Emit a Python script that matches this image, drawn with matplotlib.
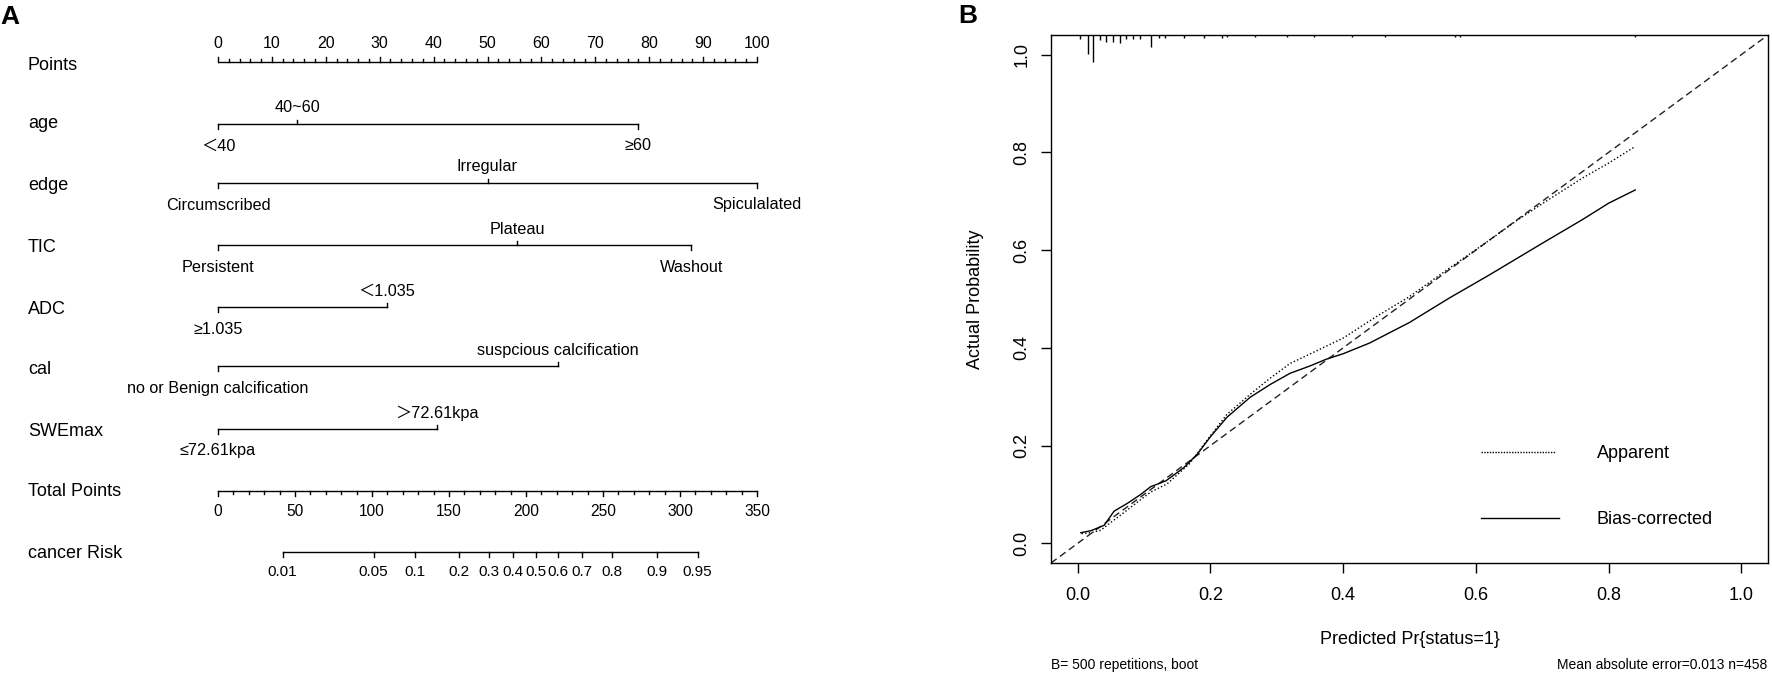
import matplotlib
matplotlib.use("Agg")
import matplotlib.pyplot as plt
import numpy as np

plt.rcParams['font.family'] = ['Liberation Sans', 'Noto Sans CJK SC', 'DejaVu Sans']

# ---------------- data: nomogram (panel A) ----------------
points_ticks = list(range(0, 101, 10))
points_minor_step = 2
total_points_ticks = list(range(0, 351, 50))
total_minor_step = 10
total_points_max = 350

row_names = ["age", "edge", "TIC", "ADC", "cal", "SWEmax"]
age_labels = ["＜40", "40~60", "≥60"]
age_points = [0, 14.7, 78.0]
edge_labels = ["Circumscribed", "Irregular", "Spiculalated"]
edge_points = [0, 50.0, 100.0]
tic_labels = ["Persistent", "Plateau", "Washout"]
tic_points = [0, 55.5, 87.8]
adc_labels = ["≥1.035", "＜1.035"]
adc_points = [0, 31.3]
cal_labels = ["no or Benign calcification", "suspcious calcification"]
cal_points = [0, 63.1]
swe_labels = ["≤72.61kpa", "＞72.61kpa"]
swe_points = [0, 40.6]

risk_ticks = [0.01, 0.05, 0.1, 0.2, 0.3, 0.4, 0.5, 0.6, 0.7, 0.8, 0.9, 0.95]
risk_tick_labels = ["0.01", "0.05", "0.1", "0.2", "0.3", "0.4", "0.5",
                    "0.6", "0.7", "0.8", "0.9", "0.95"]
lp_intercept = -5.77
lp_slope = 0.02798   # linear predictor per total point

# ---------------- data: calibration (panel B) ----------------
bias_x = [0.005, 0.02, 0.04, 0.055, 0.075, 0.095, 0.11, 0.133, 0.16, 0.18, 0.20,
          0.225, 0.26, 0.29, 0.32, 0.35, 0.375, 0.40, 0.44, 0.50, 0.56, 0.62,
          0.70, 0.76, 0.80, 0.84]
bias_y = [0.022, 0.026, 0.037, 0.066, 0.082, 0.100, 0.116, 0.128, 0.155, 0.182,
          0.218, 0.258, 0.299, 0.325, 0.348, 0.363, 0.377, 0.388, 0.410, 0.452,
          0.502, 0.549, 0.614, 0.662, 0.696, 0.723]
app_x = [0.006, 0.02, 0.035, 0.05, 0.064, 0.0935, 0.11, 0.135, 0.1686, 0.20,
         0.225, 0.26, 0.29, 0.32, 0.36, 0.40, 0.45, 0.50, 0.56, 0.62, 0.66,
         0.70, 0.76, 0.80, 0.84]
app_y = [0.020, 0.022, 0.027, 0.043, 0.057, 0.088, 0.105, 0.122, 0.163, 0.220,
         0.264, 0.305, 0.338, 0.368, 0.394, 0.420, 0.464, 0.505, 0.563, 0.620,
         0.659, 0.695, 0.747, 0.778, 0.812]
rug_x = [0.004, 0.015, 0.023, 0.0335, 0.043, 0.0535, 0.0636, 0.0736, 0.0836,
         0.0936, 0.111, 0.1227, 0.1317, 0.160, 0.190, 0.218, 0.225, 0.268,
         0.3155, 0.3555, 0.413, 0.463, 0.568, 0.576, 0.839]
rug_freq = [3, 14, 20, 4, 5, 5, 6, 3, 2.8, 2.8, 9, 2.5, 2.5, 2, 2, 2, 1.7, 1.7,
            1.7, 1.7, 1.7, 1.5, 1.5, 1.5, 1.5]
xy_ticks = [0.0, 0.2, 0.4, 0.6, 0.8, 1.0]
xy_tick_labels = ["0.0", "0.2", "0.4", "0.6", "0.8", "1.0"]
legend_names = ["Apparent", "Bias-corrected"]
footer_left = "B= 500 repetitions, boot"
footer_right = "Mean absolute error=0.013 n=458"

# ---------------- figure ----------------
W, H = 1772, 675
fig = plt.figure(figsize=(W / 100, H / 100), dpi=100)
fig.patch.set_facecolor("white")

# ---- panel A: nomogram drawn in "points" units horizontally, pixel rows vertically
PX0, PX100 = 218, 757
k = (PX100 - PX0) / 100.0
WL = 900
ax_l = fig.add_axes([0, 0, WL / W, 1])
ax_l.set_xlim(-PX0 / k, (WL - PX0) / k)
ax_l.set_ylim(H, 0)
ax_l.axis("off")

def xp(px):
    return (px - PX0) / k

LW = 1.0
col = "black"
row_fs = 13
lvl_fs = 11.7

# Points axis
yP = 62
ax_l.plot([0, 100], [yP, yP], color=col, lw=LW, solid_capstyle="butt")
for v in np.arange(0, 100 + 1e-9, points_minor_step):
    major = abs(v % 10) < 1e-9
    ax_l.plot([v, v], [yP, yP - (5 if major else 2.8)], color=col, lw=LW)
for t in points_ticks:
    ax_l.text(t, 43, str(t), ha="center", va="center", fontsize=11.5)
ax_l.text(xp(28), 65, "Points", ha="left", va="center", fontsize=row_fs)

# variable rows
rows = [(age_labels, age_points), (edge_labels, edge_points),
        (tic_labels, tic_points), (adc_labels, adc_points),
        (cal_labels, cal_points), (swe_labels, swe_points)]
row_line_y = [124, 183, 245, 307, 366, 429]
row_label_y = [123, 185, 248, 310, 369, 432]
for (labs, pts), name, yl, ylab in zip(rows, row_names, row_line_y, row_label_y):
    ax_l.plot([min(pts), max(pts)], [yl, yl], color=col, lw=LW)
    for i, (lab, p) in enumerate(zip(labs, pts)):
        above = (i % 2 == 1)
        ax_l.plot([p, p], [yl, yl - 4.5 if above else yl + 4.5], color=col, lw=LW)
        ax_l.text(p, yl - 16 if above else yl + 22, lab, ha="center", va="center",
                  fontsize=lvl_fs)
    ax_l.text(xp(28), ylab, name, ha="left", va="center", fontsize=row_fs)

# Total points axis
yT = 491
to_pts = 100.0 / total_points_max
ax_l.plot([0, 100], [yT, yT], color=col, lw=LW)
for v in np.arange(0, total_points_max + 1e-9, total_minor_step):
    major = abs(v % 50) < 1e-9
    ax_l.plot([v * to_pts] * 2, [yT, yT + (5 if major else 2.8)], color=col, lw=LW)
for t in total_points_ticks:
    ax_l.text(t * to_pts, 511, str(t), ha="center", va="center", fontsize=11.2)
ax_l.text(xp(28), 491, "Total Points", ha="left", va="center", fontsize=row_fs)

# risk axis
yR = 552
risk = np.array(risk_ticks)
risk_tp = (np.log(risk / (1 - risk)) - lp_intercept) / lp_slope
risk_pts = risk_tp * to_pts
ax_l.plot([risk_pts.min(), risk_pts.max()], [yR, yR], color=col, lw=LW)
for p, lab in zip(risk_pts, risk_tick_labels):
    ax_l.plot([p, p], [yR, yR + 5], color=col, lw=LW)
    ax_l.text(p, 572, lab, ha="center", va="center", fontsize=11)
ax_l.text(xp(28), 553, "cancer Risk", ha="left", va="center", fontsize=row_fs)

# ---- panel B: calibration curve
L, R, T, B = 1051, 1768, 35, 563
ax_r = fig.add_axes([L / W, 1 - B / H, (R - L) / W, (B - T) / H])
ax_r.set_xlim(-0.04, 1.04)
ax_r.set_ylim(-0.04, 1.04)
for s in ax_r.spines.values():
    s.set_linewidth(1.0)
    s.set_color("black")
ax_r.set_xticks(xy_ticks)
ax_r.set_xticklabels(xy_tick_labels)
ax_r.set_yticks(xy_ticks)
ax_r.set_yticklabels(xy_tick_labels, rotation=90, va="center")
ax_r.tick_params(direction="out", length=7, width=1.0, labelsize=13, colors="black")
ax_r.tick_params(axis="x", pad=10)
ax_r.tick_params(axis="y", pad=8)

ax_r.axline((0, 0), slope=1, color="#222222", lw=1.0, dashes=(5, 3))
ax_r.plot(app_x, app_y, color="black", lw=1.0, dashes=(1, 1.6))
ax_r.plot(bias_x, bias_y, color="black", lw=1.0)

rug_unit = 1.333 / (B - T)
ax_r.vlines(rug_x, [1 - f * rug_unit for f in rug_freq], 1,
            transform=ax_r.get_xaxis_transform(), color="black", lw=1.0)

# legend (manual, R style)
ax_r.plot([0.600, 0.705], [0.210, 0.210], transform=ax_r.transAxes,
          color="black", lw=1.0, dashes=(1, 1.0))
ax_r.plot([0.600, 0.709], [0.085, 0.085], transform=ax_r.transAxes,
          color="black", lw=1.0)
ax_r.text(0.7615, 0.207, legend_names[0], transform=ax_r.transAxes,
          ha="left", va="center", fontsize=13)
ax_r.text(0.7615, 0.082, legend_names[1], transform=ax_r.transAxes,
          ha="left", va="center", fontsize=13)

fig.text(975 / W, 1 - 299 / H, "Actual Probability", rotation=90,
         ha="center", va="center", fontsize=13)
fig.text((L + R) / 2 / W, 1 - 640 / H, "Predicted Pr{status=1}",
         ha="center", va="center", fontsize=13)
fig.text(L / W, 1 - 665 / H, footer_left, ha="left", va="center", fontsize=10)
fig.text(1767 / W, 1 - 665 / H, footer_right, ha="right", va="center", fontsize=10)

# panel letters
fig.text(10 / W, 1 - 17 / H, "A", ha="center", va="center", fontsize=19,
         fontweight="bold")
fig.text(967.5 / W, 1 - 16 / H, "B", ha="center", va="center", fontsize=19,
         fontweight="bold")

fig.savefig("out.png", dpi=100, facecolor="white")
